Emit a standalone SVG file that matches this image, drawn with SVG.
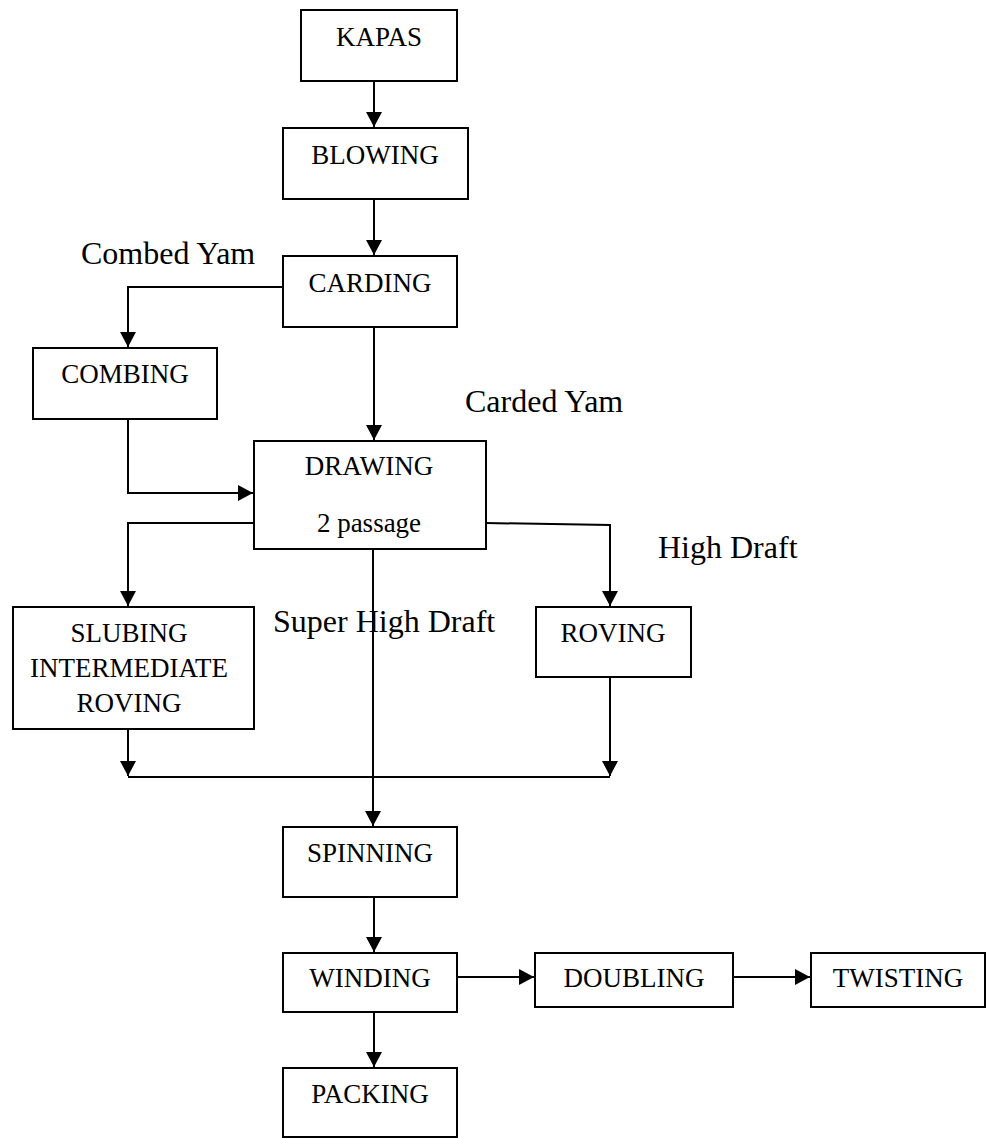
<svg xmlns="http://www.w3.org/2000/svg" width="986" height="1138" viewBox="0 0 986 1138">
<style>
.box{fill:#fff;stroke:#000;stroke-width:2}
.t{font-family:"Liberation Serif","Times New Roman",serif;font-size:27px;fill:#000;text-anchor:middle}
.lbl{font-family:"Liberation Serif","Times New Roman",serif;font-size:32px;fill:#000}
.c{fill:none;stroke:#000;stroke-width:2}
</style>
<defs>
<marker id="ah" markerUnits="userSpaceOnUse" markerWidth="18" markerHeight="18" viewBox="0 0 18 18" refX="16" refY="9" orient="auto">
<path d="M1,1 L16,9 L1,17 Z" fill="#000"/>
</marker>
</defs>
<rect width="986" height="1138" fill="#fff"/>
<g id="connectors">
<path class="c" d="M374 81 V127" marker-end="url(#ah)"/>
<path class="c" d="M374 199 V255" marker-end="url(#ah)"/>
<path class="c" d="M283 287 H128 V347" marker-end="url(#ah)"/>
<path class="c" d="M374 327 V440" marker-end="url(#ah)"/>
<path class="c" d="M128 419 V493 H253" marker-end="url(#ah)"/>
<path class="c" d="M254 523 H128 V606" marker-end="url(#ah)"/>
<path class="c" d="M486 523 L610 525 V606" marker-end="url(#ah)"/>
<path class="c" d="M373 549 V826" marker-end="url(#ah)"/>
<path class="c" d="M128 729 V776" marker-end="url(#ah)"/>
<path class="c" d="M610 677 V776" marker-end="url(#ah)"/>
<path class="c" d="M128 777 H610"/>
<path class="c" d="M374 897 V952" marker-end="url(#ah)"/>
<path class="c" d="M457 977 H534" marker-end="url(#ah)"/>
<path class="c" d="M733 977 H810" marker-end="url(#ah)"/>
<path class="c" d="M374 1012 V1067" marker-end="url(#ah)"/>
</g>
<g id="kapas"><rect class="box" x="301" y="10" width="156" height="71"/><text class="t" x="379" y="46">KAPAS</text></g>
<g id="blowing"><rect class="box" x="283" y="128" width="185" height="71"/><text class="t" x="375" y="164">BLOWING</text></g>
<g id="carding"><rect class="box" x="283" y="256" width="174" height="71"/><text class="t" x="370" y="292">CARDING</text></g>
<g id="combing"><rect class="box" x="33" y="348" width="184" height="71"/><text class="t" x="125" y="383">COMBING</text></g>
<g id="drawing"><rect class="box" x="254" y="441" width="232" height="108"/><text class="t" x="369" y="475">DRAWING</text><text class="t" x="369" y="532">2 passage</text></g>
<g id="slubing"><rect class="box" x="13" y="607" width="241" height="122"/><text class="t" x="129" y="642">SLUBING</text><text class="t" x="129" y="677">INTERMEDIATE</text><text class="t" x="129" y="712">ROVING</text></g>
<g id="roving"><rect class="box" x="536" y="607" width="155" height="70"/><text class="t" x="613" y="642">ROVING</text></g>
<g id="spinning"><rect class="box" x="283" y="827" width="174" height="70"/><text class="t" x="370" y="862">SPINNING</text></g>
<g id="winding"><rect class="box" x="283" y="953" width="174" height="59"/><text class="t" x="370" y="987">WINDING</text></g>
<g id="doubling"><rect class="box" x="535" y="953" width="198" height="54"/><text class="t" x="634" y="987">DOUBLING</text></g>
<g id="twisting"><rect class="box" x="811" y="953" width="174" height="54"/><text class="t" x="898" y="987">TWISTING</text></g>
<g id="packing"><rect class="box" x="283" y="1068" width="174" height="69"/><text class="t" x="370" y="1103">PACKING</text></g>
<g id="labels">
<text class="lbl" x="81" y="264">Combed Yam</text>
<text class="lbl" x="465" y="412">Carded Yam</text>
<text class="lbl" x="658" y="558">High Draft</text>
<text class="lbl" x="273" y="632">Super High Draft</text>
</g>
</svg>
